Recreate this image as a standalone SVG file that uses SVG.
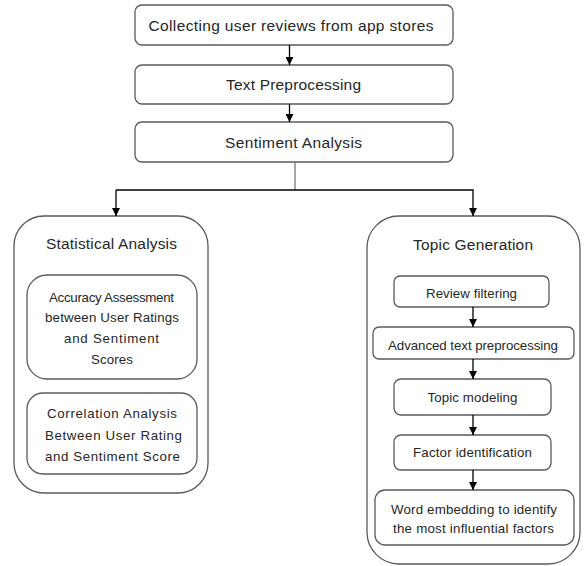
<svg xmlns="http://www.w3.org/2000/svg" width="587" height="566" viewBox="0 0 587 566">
<defs>
<style>
.box{fill:#fff;stroke:#5a5a5a;stroke-width:1.3}
.t{font-family:"Liberation Sans",Arial,sans-serif;fill:#262626;text-anchor:middle}
.m{font-size:15.5px}
.s{font-size:13.3px}
.c{fill:none;stroke:#000;stroke-width:1.3}
</style>
<marker id="ah" viewBox="0 0 10 10" refX="10" refY="5" markerWidth="8" markerHeight="8" markerUnits="userSpaceOnUse" orient="auto">
<path d="M0,0 L10,5 L0,10 z" fill="#000"/>
</marker>
</defs>
<rect width="587" height="566" fill="#fff"/>
<g id="n1">
<rect class="box" x="135" y="5" width="318" height="40" rx="7"/>
<text class="t m" x="291" y="30.5" textLength="285">Collecting user reviews from app stores</text>
</g>
<g id="n2">
<rect class="box" x="135" y="65" width="318" height="39" rx="7"/>
<text class="t m" x="293.5" y="90" textLength="135">Text Preprocessing</text>
</g>
<g id="n3">
<rect class="box" x="135" y="122" width="318" height="40" rx="7"/>
<text class="t m" x="293.5" y="147.5" textLength="137">Sentiment Analysis</text>
</g>
<g id="stat">
<rect class="box" x="14" y="216" width="194" height="277" rx="30"/>
<text class="t m" x="111.5" y="248.5" textLength="131">Statistical Analysis</text>
</g>
<g id="acc">
<rect class="box" x="27" y="275" width="170" height="104" rx="20"/>
<text class="t s" x="111.5" y="301.5" textLength="125">Accuracy Assessment</text>
<text class="t s" x="112" y="322" textLength="134">between User Ratings</text>
<text class="t s" x="111.5" y="343" textLength="95">and Sentiment</text>
<text class="t s" x="112" y="364" textLength="42">Scores</text>
</g>
<g id="corr">
<rect class="box" x="27" y="393" width="170" height="81" rx="16"/>
<text class="t s" x="112" y="418" textLength="130">Correlation Analysis</text>
<text class="t s" x="113.5" y="440" textLength="137">Between User Rating</text>
<text class="t s" x="112.5" y="461" textLength="135">and Sentiment Score</text>
</g>
<g id="topic">
<rect class="box" x="367" y="216" width="213" height="348" rx="32"/>
<text class="t m" x="473" y="249.5" textLength="120">Topic Generation</text>
</g>
<g id="rf">
<rect class="box" x="394" y="276" width="155" height="31" rx="6"/>
<text class="t s" x="471.5" y="297.5" textLength="91">Review filtering</text>
</g>
<g id="atp">
<rect class="box" x="373" y="327" width="201" height="32" rx="6"/>
<text class="t s" x="473" y="349.5" textLength="170">Advanced text preprocessing</text>
</g>
<g id="tm">
<rect class="box" x="394" y="379" width="157" height="36" rx="7"/>
<text class="t s" x="472.5" y="401.5" textLength="90">Topic modeling</text>
</g>
<g id="fi">
<rect class="box" x="394" y="435" width="157" height="35" rx="7"/>
<text class="t s" x="472.5" y="457" textLength="119">Factor identification</text>
</g>
<g id="we">
<rect class="box" x="375" y="490" width="199" height="55" rx="10"/>
<text class="t s" x="474" y="513.5" textLength="166">Word embedding to identify</text>
<text class="t s" x="473.5" y="532.5" textLength="161">the most influential factors</text>
</g>
<g id="connectors">
<line class="c" x1="289.5" y1="45" x2="289.5" y2="65" marker-end="url(#ah)"/>
<line class="c" x1="289.5" y1="104" x2="289.5" y2="122" marker-end="url(#ah)"/>
<line x1="295" y1="162" x2="295" y2="190" stroke="#777" stroke-width="1.3"/>
<polyline class="c" points="116,190 473,190 473,216" marker-end="url(#ah)"/>
<line class="c" x1="116" y1="190" x2="116" y2="216" marker-end="url(#ah)"/>
<line class="c" x1="473" y1="307" x2="473" y2="327" marker-end="url(#ah)"/>
<line class="c" x1="473" y1="359" x2="473" y2="379" marker-end="url(#ah)"/>
<line class="c" x1="473" y1="415" x2="473" y2="435" marker-end="url(#ah)"/>
<line class="c" x1="473" y1="470" x2="473" y2="490" marker-end="url(#ah)"/>
</g>
</svg>
